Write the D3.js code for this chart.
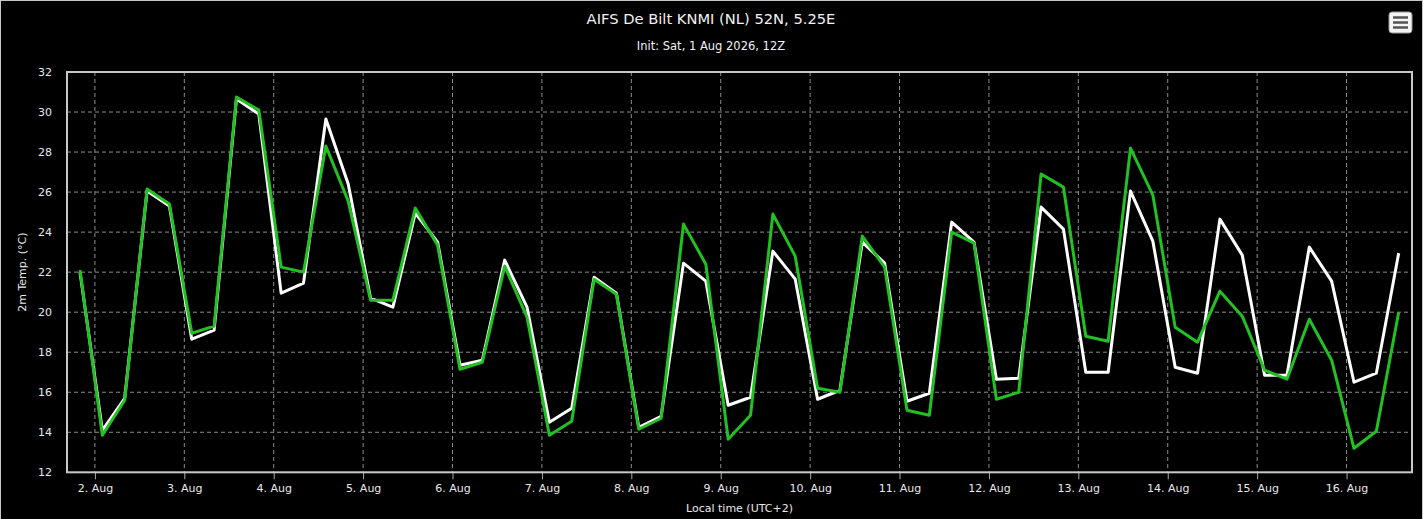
<!DOCTYPE html>
<html>
<head>
<meta charset="utf-8">
<script src="https://cdn.jsdelivr.net/npm/d3@7"></script>
<style>
  body { margin:0; background:#fff; }
  #chart { width:1428px; height:519px; }
  text { font-family: "DejaVu Sans", Verdana, sans-serif; }
</style>
</head>
<body>
<div id="chart"></div>
<script>
// Forecast run: first step 1 Aug 20:00 local (UTC+2), every 6 hours
const startTime = "2026-08-01T20:00:00Z";
const stepHours = 6;

// 2m temperature, white line
const whiteTemps = [
  22.0, 14.1, 15.7, 26.05, 25.3, 18.65, 19.1, 30.65, 29.9, 20.95,
  21.45, 29.65, 26.4, 20.7, 20.25, 24.95, 23.5, 17.35, 17.6, 22.6,
  20.25, 14.5, 15.2, 21.75, 20.95, 14.25, 14.8, 22.45, 21.55, 15.35,
  15.75, 23.05, 21.65, 15.65, 16.1, 23.5, 22.45, 15.55, 15.95, 24.5,
  23.5, 16.65, 16.7, 25.25, 24.15, 17.0, 17.0, 26.05, 23.55, 17.25,
  16.95, 24.65, 22.85, 16.85, 16.85, 23.25, 21.55, 16.5, 16.95, 22.95
];

// 2m temperature, green line
const greenTemps = [
  22.1, 13.85, 15.6, 26.15, 25.4, 18.95, 19.3, 30.75, 30.1, 22.25,
  22.0, 28.3, 25.55, 20.6, 20.6, 25.2, 23.35, 17.15, 17.5, 22.3,
  19.75, 13.85, 14.55, 21.65, 20.9, 14.15, 14.7, 24.4, 22.4, 13.65,
  14.85, 24.9, 22.8, 16.2, 16.0, 23.8, 22.25, 15.1, 14.85, 24.0,
  23.45, 15.65, 16.0, 26.9, 26.25, 18.8, 18.55, 28.2, 25.85, 19.25,
  18.5, 21.05, 19.8, 17.1, 16.65, 19.65, 17.6, 13.2, 14.05, 20.0
];

const yTicks = [12, 14, 16, 18, 20, 22, 24, 26, 28, 30, 32];
const titleText = "AIFS De Bilt KNMI (NL) 52N, 5.25E";
const subtitleText = "Init: Sat, 1 Aug 2026, 12Z";
const yTitle = "2m Temp. (°C)";
const xTitle = "Local time (UTC+2)";

const W = 1428, H = 519, chartW = 1423;
const plot = { left:67, right:1412, top:72, bottom:472.3 };

const t0 = new Date(startTime);
const times = whiteTemps.map((d,i) => d3.utcHour.offset(t0, i*stepHours));

const svg = d3.select("#chart").append("svg").attr("width", W).attr("height", H);

// background + border
svg.append("rect").attr("x",0.5).attr("y",0.5).attr("width",chartW-1).attr("height",H+2)
  .attr("fill","#000").attr("stroke","#c8c8c8").attr("stroke-width",1);

const x = d3.scaleUtc().domain(d3.extent(times)).range([plot.left+13, plot.right-13.3]);
const y = d3.scaleLinear().domain([12,32]).range([plot.bottom, plot.top]);

const dayTicks = d3.utcDay.range(new Date("2026-08-02T00:00:00Z"), new Date("2026-08-16T12:00:00Z"));
const fmt = d3.utcFormat("%-d. %b");

// Grid
svg.append("g").selectAll("line").data(yTicks.slice(1,-1)).enter().append("line")
  .attr("x1",plot.left).attr("x2",plot.right).attr("y1",d=>y(d)).attr("y2",d=>y(d))
  .attr("stroke","#8c8c8c").attr("stroke-dasharray","4,3");
svg.append("g").selectAll("line").data(dayTicks).enter().append("line")
  .attr("x1",d=>x(d)).attr("x2",d=>x(d)).attr("y1",plot.top).attr("y2",plot.bottom)
  .attr("stroke","#8c8c8c").attr("stroke-dasharray","4,3");

// X axis ticks + labels
const xAxis = d3.axisBottom(x).tickValues(dayTicks).tickFormat(fmt).tickSize(7).tickPadding(5);
const gx = svg.append("g").attr("transform",`translate(0,${plot.bottom})`).call(xAxis);
gx.select(".domain").remove();
gx.selectAll(".tick line").attr("stroke","#aaa");
gx.selectAll(".tick text").attr("fill","#e8e8e8").style("font-size","11px").attr("font-family",null);

// Y axis labels
const yAxis = d3.axisLeft(y).tickValues(yTicks).tickSize(0).tickPadding(15);
const gy = svg.append("g").attr("transform",`translate(${plot.left},0)`).call(yAxis);
gy.select(".domain").remove();
gy.selectAll(".tick text").attr("fill","#e8e8e8").style("font-size","11px").attr("font-family",null);

// Plot frame
svg.append("rect").attr("x",plot.left).attr("y",plot.top)
  .attr("width",plot.right-plot.left).attr("height",plot.bottom-plot.top)
  .attr("fill","none").attr("stroke","#c8c8c8").attr("stroke-width",2);

// Lines
const line = d3.line().x((d,i)=>x(times[i])).y(d=>y(d));
svg.append("path").datum(whiteTemps).attr("d",line).attr("fill","none")
  .attr("stroke","#fff").attr("stroke-width",3).attr("stroke-linejoin","round");
svg.append("path").datum(greenTemps).attr("d",line).attr("fill","none")
  .attr("stroke","#22c022").attr("stroke-width",3).attr("stroke-linejoin","round");

// Titles
svg.append("text").attr("x",711).attr("y",24).attr("text-anchor","middle")
  .attr("fill","#f2f2f2").style("font-size","14.7px").text(titleText);
svg.append("text").attr("x",711).attr("y",50).attr("text-anchor","middle")
  .attr("fill","#f2f2f2").style("font-size","11.5px").text(subtitleText);
svg.append("text").attr("transform",`translate(26,${(plot.top+plot.bottom)/2}) rotate(-90)`)
  .attr("text-anchor","middle").attr("fill","#e8e8e8").style("font-size","11px").text(yTitle);
svg.append("text").attr("x",(plot.left+plot.right)/2).attr("y",512).attr("text-anchor","middle")
  .attr("fill","#e8e8e8").style("font-size","11px").text(xTitle);

// Menu button
const menu = svg.append("g").attr("transform","translate(1389,12)");
menu.append("rect").attr("width",23).attr("height",21).attr("rx",3)
  .attr("fill","#f4f4f4").attr("stroke","#999").attr("stroke-width",1);
[5.5, 10.5, 15.5].forEach(yy => {
  menu.append("line").attr("x1",4).attr("x2",19).attr("y1",yy).attr("y2",yy)
    .attr("stroke","#555").attr("stroke-width",2.5);
});
</script>
</body>
</html>
